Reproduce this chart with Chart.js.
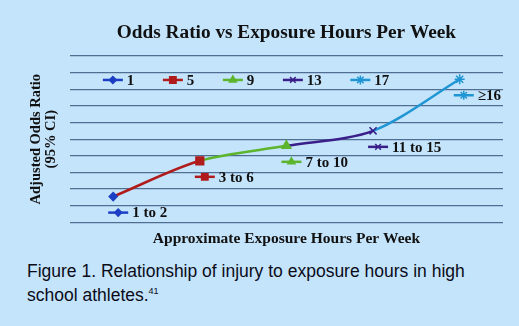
<!DOCTYPE html>
<html>
<head>
<meta charset="utf-8">
<script src="https://cdn.jsdelivr.net/npm/chart.js@4"></script>
<style>
  html, body {
    margin: 0;
    padding: 0;
    width: 519px;
    height: 326px;
    overflow: hidden;
    background: #c4e4fb;
  }
  #wrap {
    position: absolute;
    left: 0;
    top: 0;
    width: 519px;
    height: 250px;
  }
  .caption {
    position: absolute;
    left: 27px;
    top: 259px;
    font-family: "Liberation Sans", Arial, sans-serif;
    font-size: 17.5px;
    line-height: 24.4px;
    color: #0b0b18;
    white-space: nowrap;
  }
  .caption sup {
    font-size: 9px;
    vertical-align: 7px;
    line-height: 0;
  }
</style>
</head>
<body>
<div id="wrap"><canvas id="oddsChart"></canvas></div>
<div class="caption">Figure 1. Relationship of injury to exposure hours in high<br>school athletes.<sup>41</sup></div>

<script>
// Exposure bands and adjusted odds ratio per band
const categories = ["1 to 2", "3 to 6", "7 to 10", "11 to 15", "≥16"];
const oddsRatio = [1.55, 3.7, 4.6, 5.5, 8.6];
// Legend entries (one per band)
const seriesNames = ["1", "5", "9", "13", "17"];
// Value axis range (no tick labels shown)
const yMin = 0;
const yMax = 10;
const yStep = 1;

const POINT_COLORS = ["#1d3fc4", "#b01c1c", "#5cb52c", "#3a1f8a", "#1f95d3"];
const POINT_STYLES = ["rectRot", "rect", "triangle", "crossRot", "star"];
const POINT_RADII = [4, 5.5, 5, 5, 5];
const KEY_RADII = [3.5, 4.5, 4, 4, 4.5];
const GRID_COLOR = "#506e93";
const TEXT_COLOR = "#111111";
const SERIF = "'Liberation Serif', 'Times New Roman', serif";

Chart.defaults.font.family = SERIF;
Chart.defaults.color = TEXT_COLOR;

/**
 * Draw a short line with the point marker in its middle (legend key)
 */
function drawKey(ctx, i, x, y, len) {
  ctx.save();
  ctx.strokeStyle = POINT_COLORS[i];
  ctx.lineWidth = 2.5;
  ctx.beginPath();
  ctx.moveTo(x, y);
  ctx.lineTo(x + len, y);
  ctx.stroke();
  ctx.fillStyle = POINT_COLORS[i];
  ctx.lineWidth = 1.5;
  Chart.helpers.drawPoint(ctx, {
    pointStyle: POINT_STYLES[i],
    radius: KEY_RADII[i],
    rotation: 0,
    borderWidth: 1.5,
  }, x + len / 2, y);
  ctx.restore();
}

// Legend row drawn inside the plot area
const innerLegend = {
  id: "innerLegend",
  afterDatasetsDraw(chart) {
    const { ctx, chartArea } = chart;
    const keyLen = 20;
    let x = chartArea.left + 33;
    const y = chartArea.top + 24;
    ctx.save();
    ctx.font = "bold 15px " + SERIF;
    ctx.textBaseline = "middle";
    ctx.fillStyle = TEXT_COLOR;
    seriesNames.forEach((name, i) => {
      drawKey(ctx, i, x, y, keyLen);
      ctx.fillText(name, x + keyLen + 4, y + 1);
      x += keyLen + 4 + ctx.measureText(name).width + 28.5;
    });
    ctx.restore();
  },
};

// Band labels with their marker key, placed under each point
const bandLabels = {
  id: "bandLabels",
  afterDatasetsDraw(chart) {
    const { ctx, chartArea } = chart;
    const meta = chart.getDatasetMeta(0);
    const keyLen = 20;
    ctx.save();
    ctx.font = "bold 15px " + SERIF;
    ctx.textBaseline = "middle";
    ctx.fillStyle = TEXT_COLOR;
    meta.data.forEach((pt, i) => {
      const text = categories[i];
      const w = keyLen + 4 + ctx.measureText(text).width;
      let x = pt.x - 5;
      if (x + w > chartArea.right - 2) {
        x = chartArea.right - 2 - w;
      }
      const y = pt.y + 16;
      drawKey(ctx, i, x, y, keyLen);
      ctx.fillText(text, x + keyLen + 4, y + 1);
    });
    ctx.restore();
  },
};

new Chart(document.getElementById("oddsChart"), {
  type: "line",
  data: {
    labels: categories,
    datasets: [
      {
        label: "Adjusted Odds Ratio",
        data: oddsRatio,
        borderWidth: 2.5,
        tension: 0.3,
        fill: false,
        pointStyle: POINT_STYLES,
        pointRadius: POINT_RADII,
        pointBackgroundColor: POINT_COLORS,
        pointBorderColor: POINT_COLORS,
        pointBorderWidth: 1.5,
        segment: {
          borderColor: (ctx) => POINT_COLORS[ctx.p1DataIndex],
        },
      },
    ],
  },
  options: {
    responsive: true,
    maintainAspectRatio: false,
    animation: false,
    devicePixelRatio: 1,
    layout: {
      padding: { left: 26, right: 16, top: 0, bottom: 0 },
    },
    plugins: {
      legend: { display: false },
      tooltip: { enabled: false },
      title: {
        display: true,
        fullSize: false,
        text: "Odds Ratio vs Exposure Hours Per Week",
        color: TEXT_COLOR,
        font: { size: 19.3, weight: "bold", lineHeight: 1.2 },
        padding: { top: 21.4, bottom: 11.4 },
      },
    },
    scales: {
      x: {
        type: "category",
        offset: true,
        grid: { display: false, drawTicks: false },
        border: { display: false },
        ticks: { display: false },
        title: {
          display: true,
          text: "Approximate Exposure Hours Per Week",
          color: TEXT_COLOR,
          font: { size: 15.5, weight: "bold", lineHeight: 1.2 },
          padding: { top: 7.3, bottom: 1.7 },
        },
      },
      y: {
        min: yMin,
        max: yMax,
        grid: { color: GRID_COLOR, lineWidth: 1.3, drawTicks: false },
        border: { display: false },
        ticks: { display: false, stepSize: yStep },
        title: {
          display: true,
          text: ["Adjusted Odds Ratio", "(95% CI)"],
          color: TEXT_COLOR,
          font: { size: 14.5, weight: "bold", lineHeight: 1.03 },
          padding: { top: 3, bottom: 11 },
        },
      },
    },
  },
  plugins: [innerLegend, bandLabels],
});
</script>
</body>
</html>
